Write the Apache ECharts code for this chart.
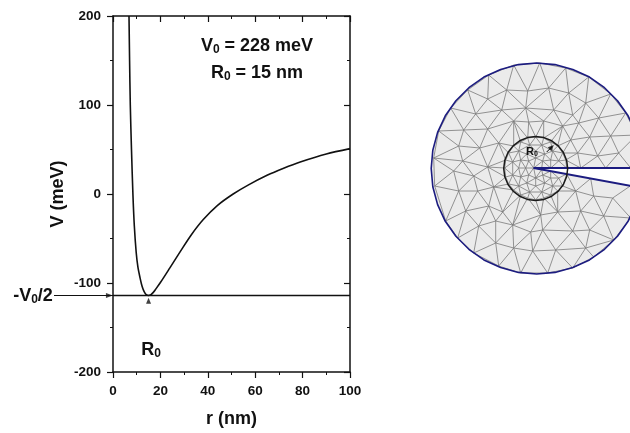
<!DOCTYPE html>
<html><head><meta charset="utf-8">
<style>html,body{margin:0;padding:0;background:#fff}#c{width:630px;height:433px}</style>
<script src="https://cdn.jsdelivr.net/npm/echarts@6/dist/echarts.min.js"></script>
</head><body><div id="c"></div>
<script>
// Potential curve V(r)
const radius = [6.75,7,7.3,7.8,8.4,9,9.8,10.5,11.4,12.3,13.2,14,15,16,17,18,20,24,28.3,33,38,44,50.7,57,65,72,79,90,100];
const potential = [200,150,100,50,0,-36,-66,-82,-94,-104,-110,-113,-114,-113,-110.5,-107,-99.5,-83,-65,-46,-29,-13,0,10,21,29,36,45,51];
const wellDepth = -114;
const wellRadius = 15;
const xTicks = [0,20,40,60,80,100];
const yTicks = [-200,-100,0,100,200];

// Mesh illustration (mesh units)
const outline = [[641.5,168.5],[639.9,150.2],[635.1,132.4],[627.4,115.8],[616.8,100.7],[603.8,87.7],[588.8,77.1],[572.1,69.4],[554.3,64.6],[536,63],[517.7,64.6],[499.9,69.4],[483.2,77.1],[468.2,87.7],[455.2,100.7],[444.6,115.8],[436.9,132.4],[432.1,150.2],[430.5,168.5],[432.1,186.8],[436.9,204.6],[444.6,221.3],[455.2,236.3],[468.2,249.3],[483.2,259.9],[499.9,267.6],[517.7,272.4],[536,274],[554.3,272.4],[572.1,267.6],[588.8,259.9],[603.8,249.3],[616.8,236.3],[627.4,221.2],[635.1,204.6],[639.9,186.8],[641.5,168.5]];
const outerNodes = [[513,65],[488,75],[467,90],[450,108],[438,131],[433,158],[539,63],[565,68],[588,77],[610,94],[625,113],[636,135],[434,186],[445,221],[457,238],[473,253],[498,266],[520,273],[547,273],[572,268],[593,257],[613,240],[630,218],[640,190]];
const fieldNodes = [[506,90],[527,91],[487,99],[475,114],[463,130],[501,110],[513,121],[487,129],[479,148],[458,146],[498,143],[525,108],[528,122],[462,161],[548,88],[568,93],[585,103],[553,110],[572,115],[578,123],[598,118],[562,126],[543,121],[570,140],[589,137],[610,136],[577,153],[597,156],[618,153],[458,191],[477,191],[453,171],[473,176],[488,206],[465,211],[478,226],[495,221],[512,225],[502,212],[513,248],[532,251],[493,187],[487,167],[542,230],[555,250],[572,231],[589,230],[603,216],[580,211],[540,215],[557,212],[593,196],[575,191],[612,198],[585,248],[530,232],[495,243]];
const coreNodes = [[566,168],[562,153],[550,142],[535,137],[520,142],[508,153],[504,168],[508,184],[520,195],[535,200],[550,195],[562,186],[565,160],[557,146],[543,138],[527,138],[513,146],[505,160],[505,177],[513,190],[527,198],[543,198],[557,191],[558,161],[552,151],[541,145],[529,145],[518,151],[512,162],[512,175],[518,186],[529,192],[541,192],[552,186],[558,178],[550,160],[544,154],[535,151],[526,154],[520,160],[518,168],[520,177],[526,183],[535,186],[544,183],[550,178],[542,161],[535,158],[528,161],[525,168],[528,175],[535,178],[542,175]];
const crackNodes = [[533,168],[541,168],[550,168],[580,168],[605,168],[630,168],[541,169.5],[550,171],[566,174],[590,178.5],[612,182],[630,185.7]];
const crackUpper = [[533,168],[650,168]];
const crackLower = [[533,168],[650,189.5]];
const wedge = [[533,168],[650,168],[650,189.5]];
const coreCircle = [[567,168.5],[565.9,160.2],[562.7,152.5],[557.6,145.9],[551,140.8],[543.3,137.6],[535,136.5],[526.7,137.6],[519,140.8],[512.4,145.9],[507.3,152.5],[504.1,160.2],[503,168.5],[504.1,176.8],[507.3,184.5],[512.4,191.1],[519,196.2],[526.7,199.4],[535,200.5],[543.3,199.4],[551,196.2],[557.6,191.1],[562.7,184.5],[565.9,176.8],[567,168.5]];
const radiusArrow = [[546,152],[551,147]];

const NAVY = '#1c1c80', INK = '#111', FONT = '"Liberation Sans", Arial, sans-serif';

// Triangulate the typed nodes (Bowyer-Watson) to recover the mesh edges
function triangulate(p) {
  const pts = p.concat([[-5000,-5000],[6000,-5000],[500,7000]]);
  const n = p.length;
  let tris = [[n,n+1,n+2]];
  const inCirc = (t,q) => {
    const [a,b,c] = t.map(i=>pts[i]);
    const ax=a[0]-q[0],ay=a[1]-q[1],bx=b[0]-q[0],by=b[1]-q[1],cx=c[0]-q[0],cy=c[1]-q[1];
    const d=(ax*ax+ay*ay)*(bx*cy-cx*by)-(bx*bx+by*by)*(ax*cy-cx*ay)+(cx*cx+cy*cy)*(ax*by-bx*ay);
    const o=(b[0]-a[0])*(c[1]-a[1])-(b[1]-a[1])*(c[0]-a[0]);
    return o>0 ? d>0 : d<0;
  };
  for (let i=0;i<n;i++){
    const bad=[],good=[];
    tris.forEach(t=>(inCirc(t,pts[i])?bad:good).push(t));
    const cnt={};
    bad.forEach(t=>[[t[0],t[1]],[t[1],t[2]],[t[2],t[0]]].forEach(e=>{
      const k=Math.min(e[0],e[1])+'_'+Math.max(e[0],e[1]);cnt[k]=(cnt[k]||0)+1;}));
    tris=good;
    Object.keys(cnt).forEach(k=>{if(cnt[k]===1){const[a,b]=k.split('_').map(Number);tris.push([a,b,i]);}});
  }
  const edges={};
  tris.forEach(t=>[[t[0],t[1]],[t[1],t[2]],[t[2],t[0]]].forEach(e=>{
    if(e[0]<n&&e[1]<n){edges[Math.min(e[0],e[1])+'_'+Math.max(e[0],e[1])]=1;}}));
  return Object.keys(edges).map(k=>k.split('_').map(Number));
}
const inWedge = (x,y)=> x>533.5 && y>168.3 && y<168+(x-533)*(21.5/117)-0.2;
const inRadiusOut = (x,y)=> Math.hypot(x-536,y-168.5)>106.5;
const allNodes = outerNodes.concat(fieldNodes,coreNodes,crackNodes);
const meshEdges = triangulate(allNodes).map(e=>[allNodes[e[0]],allNodes[e[1]]]).filter(e=>{
  for(let s=0;s<=16;s++){const f=s/16,x=e[0][0]+(e[1][0]-e[0][0])*f,y=e[0][1]+(e[1][1]-e[0][1])*f;
    if(inWedge(x,y)) return false;
    if(inRadiusOut(x,y)) return false;}
  return true;
});

const polySeries = (pts,fill,z)=>({
  type:'custom',xAxisIndex:2,yAxisIndex:2,coordinateSystem:'cartesian2d',z,silent:true,clip:true,
  data:[0],encode:{x:[],y:[]},
  renderItem:(params,api)=>({type:'polygon',shape:{points:pts.map(q=>api.coord(q))},style:{fill,stroke:null}})
});
const sub = {fontSize:12,fontWeight:'bold',fontFamily:FONT,fill:INK,padding:[8,0,0,0]};
const big = {fontSize:18,fontWeight:'bold',fontFamily:FONT,fill:INK};
const label = (x,y,txt,bigOpt,subOpt)=>({type:'text',x,y,z:50,style:{rich:{b:Object.assign({},big,bigOpt),s:Object.assign({},sub,subOpt)},text:txt,fill:INK,align:'center',verticalAlign:'middle'}});

const side = (pos,type,extra)=>Object.assign({
  type:'value',position:pos,min:type.min,max:type.max,interval:type.interval,
  axisLine:{show:true,onZero:false,lineStyle:{color:INK,width:1.5}},
  axisTick:{show:true,inside:true,length:6,lineStyle:{color:INK,width:1.2}},
  minorTick:{show:true,splitNumber:2,length:3,lineStyle:{color:INK,width:1}},
  axisLabel:{show:false},splitLine:{show:false},minorSplitLine:{show:false}},extra);
const tickLabel = {show:true,margin:12,color:INK,fontSize:13.5,fontWeight:'bold',fontFamily:FONT,
  showMinLabel:true,showMaxLabel:true,hideOverlap:false};
const X={min:xTicks[0],max:xTicks[5],interval:20}, Y={min:yTicks[0],max:yTicks[4],interval:100};
const out = {show:true,inside:false,length:6,lineStyle:{color:INK,width:1.2}};
const nameStyle = {color:INK,fontSize:18,fontWeight:'bold',fontFamily:FONT};

const chart = echarts.init(document.getElementById('c'),null,{renderer:'canvas'});
chart.setOption({
  animation:false,backgroundColor:'#fff',
  grid:[
    {left:113,top:16,width:237,height:356,outerBoundsMode:'none'},
    {left:113,top:16,width:237,height:356,show:false,outerBoundsMode:'none'},
    {left:420,top:0,width:210,height:433,show:false,outerBoundsMode:'none'}
  ],
  xAxis:[
    side('bottom',X,{gridIndex:0,axisTick:out,axisLabel:tickLabel,name:'r (nm)',nameLocation:'middle',nameGap:38,nameTextStyle:nameStyle}),
    side('top',X,{gridIndex:1}),
    {type:'value',gridIndex:2,min:419.3,max:629.3,show:false}
  ],
  yAxis:[
    side('left',Y,{gridIndex:0,axisTick:out,axisLabel:tickLabel,name:'V (meV)',nameLocation:'middle',nameGap:46,nameTextStyle:nameStyle}),
    side('right',Y,{gridIndex:1}),
    {type:'value',gridIndex:2,min:0,max:433,inverse:true,show:false}
  ],
  series:[
    {type:'line',xAxisIndex:0,yAxisIndex:0,data:radius.map((r,i)=>[r,potential[i]]),smooth:0.3,showSymbol:false,symbol:'none',
      lineStyle:{color:INK,width:1.6},z:5},
    {type:'line',xAxisIndex:0,yAxisIndex:0,data:[[0,wellDepth],[100,wellDepth]],symbol:'none',lineStyle:{color:INK,width:1.5},z:5},
    {type:'scatter',xAxisIndex:0,yAxisIndex:0,data:[[wellRadius,wellDepth-6]],symbol:'triangle',symbolSize:[5,6],itemStyle:{color:INK},z:6},
    {type:'scatter',xAxisIndex:0,yAxisIndex:0,clip:false,data:[[-1.5,wellDepth]],symbol:'triangle',symbolRotate:-90,symbolSize:[5,7],itemStyle:{color:INK},z:6},

    polySeries(outline,'#ebebeb',1),
    {type:'custom',xAxisIndex:2,yAxisIndex:2,z:2,silent:true,clip:true,data:meshEdges.map((e,i)=>[i]),encode:{x:[],y:[]},
      renderItem:(params,api)=>{const e=meshEdges[params.dataIndex],a=api.coord(e[0]),b=api.coord(e[1]);
        return {type:'line',shape:{x1:a[0],y1:a[1],x2:b[0],y2:b[1]},style:{stroke:'#7a7a7a',lineWidth:0.8}};}},
    polySeries(wedge,'#ffffff',3),
    {type:'line',xAxisIndex:2,yAxisIndex:2,data:outline,symbol:'none',lineStyle:{color:NAVY,width:1.6},z:4},
    {type:'line',xAxisIndex:2,yAxisIndex:2,data:crackUpper,symbol:'none',lineStyle:{color:NAVY,width:2},z:4},
    {type:'line',xAxisIndex:2,yAxisIndex:2,data:crackLower,symbol:'none',lineStyle:{color:NAVY,width:2},z:4},
    {type:'line',xAxisIndex:2,yAxisIndex:2,data:coreCircle,symbol:'none',lineStyle:{color:'#1a1a1a',width:1.5},z:4},
    {type:'line',xAxisIndex:2,yAxisIndex:2,data:radiusArrow,symbol:'none',lineStyle:{color:'#000',width:1},z:5},
    {type:'scatter',xAxisIndex:2,yAxisIndex:2,data:[radiusArrow[1]],symbol:'triangle',symbolRotate:-45,symbolSize:[5,6],itemStyle:{color:'#000'},z:5}
  ],
  graphic:[
    {type:'line',z:40,shape:{x1:54,y1:295.5,x2:113,y2:295.5},style:{stroke:INK,lineWidth:1}},
    label(257,46,'{b|V}{s|0}{b| = 228 meV}'),
    label(257,73,'{b|R}{s|0}{b| = 15 nm}'),
    label(33,296,'{b|-V}{s|0}{b|/2}'),
    label(151,350,'{b|R}{s|0}'),
    label(532,152,'{b|R}{s|0}',{fontSize:11},{fontSize:7,padding:[4,0,0,0]})
  ]
});
</script></body></html>
